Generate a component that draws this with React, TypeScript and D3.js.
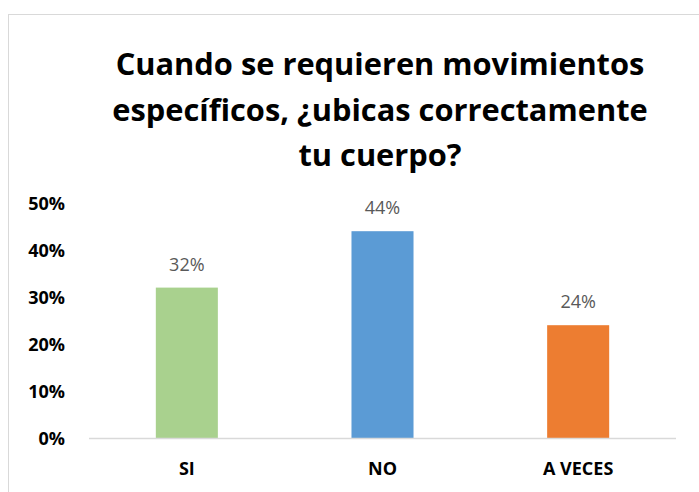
import React from "react";
import * as d3 from "d3";

const categories = ["SI", "NO", "A VECES"];
const values = [0.32, 0.44, 0.24];
const colors = ["#A9D18E", "#5B9BD5", "#ED7D31"];
const yTicks = [0, 0.1, 0.2, 0.3, 0.4, 0.5];
const titleLines = [
  "Cuando se requieren movimientos",
  "específicos, ¿ubicas correctamente",
  "tu cuerpo?",
];

export default function App() {
  const W = 699;
  const H = 492;
  const left = 89;
  const right = 676;
  const y0 = 438;
  const y1 = 203;
  const x = d3.scaleBand<string>().domain(categories).range([left, right]).paddingInner(0.683).paddingOuter(0.3415);
  const y = d3.scaleLinear().domain([0, 0.5]).range([y0, y1]);
  const fmt = d3.format(".0%");
  const font = "'Open Sans', 'DejaVu Sans', sans-serif";
  return (
    <svg width={W} height={H} style={{ position: "absolute", left: 0, top: 0, background: "#fff" }}>
      <rect x={8.5} y={14.5} width={W} height={H} fill="#fff" stroke="#d9d9d9" strokeWidth={1} />
      {titleLines.map((t, i) => (
        <text key={i} x={380} y={75 + i * 45.5} textAnchor="middle" fontFamily={font} fontWeight={700} fontSize={30.8} fill="#000">
          {t}
        </text>
      ))}
      {yTicks.map((t) => (
        <text key={t} x={65} y={y(t) + 6.5} textAnchor="end" fontFamily={font} fontWeight={700} fontSize={18} fill="#000">
          {fmt(t)}
        </text>
      ))}
      {categories.map((c, i) => (
        <g key={c}>
          <rect x={x(c)} y={y(values[i])} width={x.bandwidth()} height={y0 - y(values[i])} fill={colors[i]} />
          <text x={(x(c) as number) + x.bandwidth() / 2} y={y(values[i]) - 17} textAnchor="middle" fontFamily={font} fontSize={18} fill="#595959">
            {fmt(values[i])}
          </text>
          <text x={(x(c) as number) + x.bandwidth() / 2} y={475} textAnchor="middle" fontFamily={font} fontWeight={700} fontSize={18} fill="#000">
            {c}
          </text>
        </g>
      ))}
      <line x1={left} x2={right} y1={y0 + 0.5} y2={y0 + 0.5} stroke="#d9d9d9" strokeWidth={1.5} />
    </svg>
  );
}
